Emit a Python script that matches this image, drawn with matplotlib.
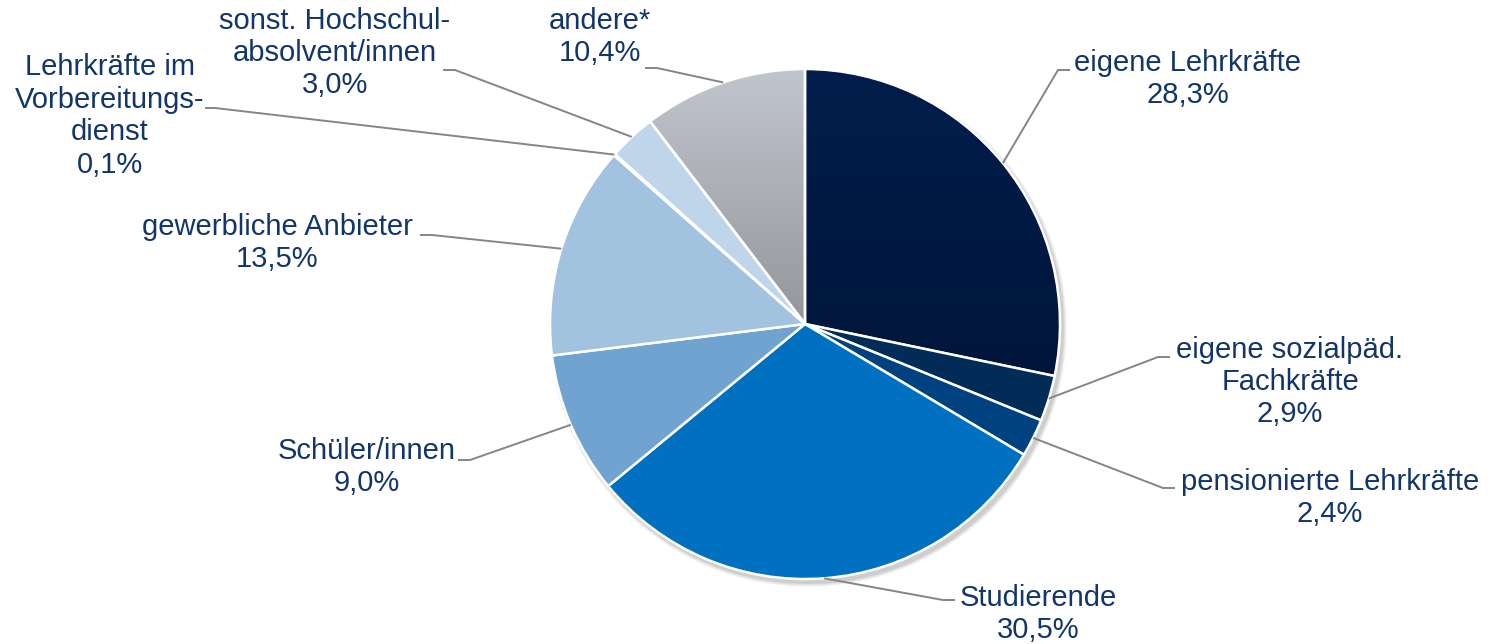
import matplotlib
matplotlib.use('Agg')
import matplotlib.pyplot as plt
import numpy as np
from matplotlib.patches import Circle
from matplotlib.colors import to_rgb

# ---------------- data ----------------
labels = ["eigene Lehrkräfte", "eigene sozialpäd.\nFachkräfte", "pensionierte Lehrkräfte",
          "Studierende", "Schüler/innen", "gewerbliche Anbieter",
          "Lehrkräfte im\nVorbereitungs-\ndienst", "sonst. Hochschul-\nabsolvent/innen", "andere*"]
values = [28.3, 2.9, 2.4, 30.5, 9.0, 13.5, 0.1, 3.0, 10.4]
value_texts = ["28,3%", "2,9%", "2,4%", "30,5%", "9,0%", "13,5%", "0,1%", "3,0%", "10,4%"]
colors = ['#001a44', '#002c57', '#00427f', '#0070c0', '#70a3cf', '#a1c3df',
          '#a8c8e2', '#bed5ea', '#b0b3ba']

# ---------------- layout (pixel coordinates, y from top) ----------------
W, H = 1495, 644
CX, CY, R = 805, 324, 255
text_pos = [(1188, 79), (1290, 382), (1330, 498), (1038, 614), (367, 467),
            (277, 243), (110, 116), (335, 53), (600, 37)]
elbows = [((1070, 70), (1058, 70)), ((1170, 357), (1158, 357)), ((1175, 488), (1163, 488)),
          ((955, 600), (943, 600)), ((458, 460), (470, 460)), ((420, 235), (432, 235)),
          ((205, 108), (215, 108)), ((443, 70), (455, 70)), ((645, 68), (657, 68))]

def fy(y):
    return H - y

fig = plt.figure(figsize=(W / 100, H / 100), dpi=100)
ax = fig.add_axes([0, 0, 1, 1])

# shadow
for i, a in enumerate([0.05, 0.07, 0.09, 0.12]):
    ax.add_patch(Circle((CX + 3, fy(CY + 4)), R + 4 - i, facecolor='#606060',
                        edgecolor='none', alpha=a, zorder=0))

wedges, _ = ax.pie(values, colors=colors, startangle=90, counterclock=False,
                   center=(CX, fy(CY)), radius=R,
                   wedgeprops=dict(edgecolor='white', linewidth=1.8, zorder=2))

# gradient fills
def gradient_fill(wedge, top_col, bot_col, y_top, y_bot):
    t = np.linspace(0, 1, 256)[:, None]
    c1 = np.array(to_rgb(top_col)); c2 = np.array(to_rgb(bot_col))
    img = (c1[None, None, :] * (1 - t[:, :, None]) + c2[None, None, :] * t[:, :, None])
    img = np.repeat(img, 2, axis=1)
    im = ax.imshow(img, extent=[CX - R, CX + R, fy(y_bot), fy(y_top)],
                   origin='upper', aspect='auto', zorder=1.5, interpolation='bilinear')
    im.set_clip_path(wedge)
    wedge.set_facecolor('none')

gradient_fill(wedges[8], '#c1c5ce', '#95969a', CY - R, CY)
gradient_fill(wedges[0], '#001e4c', '#00153a', CY - R, CY + 60)

ax.set_xlim(0, W)
ax.set_ylim(0, H)
ax.set_aspect('equal')
ax.axis('off')

txt_col = '#12356b'
line_col = '#858585'
for i, w in enumerate(wedges):
    th = np.deg2rad((w.theta1 + w.theta2) / 2)
    px, py = CX + R * np.cos(th), fy(CY) + R * np.sin(th)
    (ex, ey), (kx, ky) = elbows[i]
    ax.plot([ex, kx, px], [fy(ey), fy(ky), py], color=line_col, lw=1.4,
            solid_capstyle='butt', zorder=3)
    tx, ty = text_pos[i]
    ax.text(tx, fy(ty), labels[i] + "\n" + value_texts[i], ha='center', va='center',
            fontsize=21, color=txt_col, family=['Liberation Sans', 'DejaVu Sans'],
            linespacing=1.2, zorder=4)

fig.savefig('out.png', dpi=100, facecolor='white')
